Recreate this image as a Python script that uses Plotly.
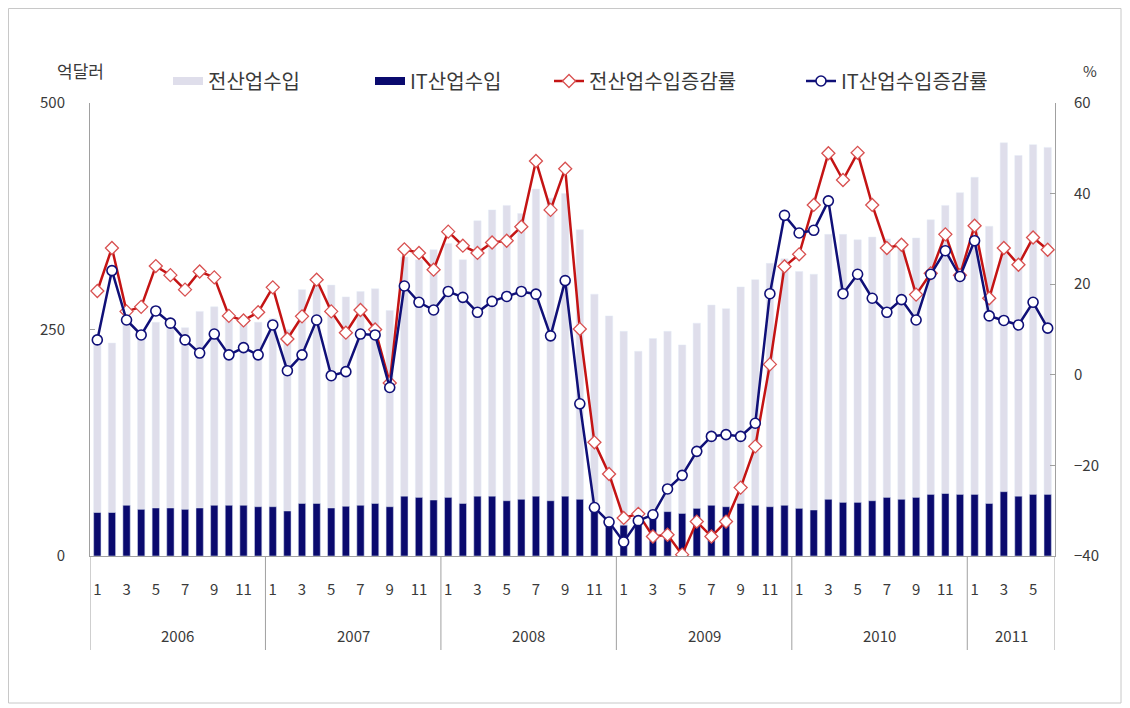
import plotly.graph_objects as go

# ---------------- data ----------------
year_labels = ["2006", "2007", "2008", "2009", "2010", "2011"]
months_per_year = [12, 12, 12, 12, 12, 6]
month_tick_labels = ["1", "3", "5", "7", "9", "11"]

# 전산업수입 (억달러)
total_imports = [
    238, 235, 262, 245, 258, 255, 252, 270, 275, 265, 262, 258,   # 2006
    262, 250, 294, 298, 299, 286, 292, 295, 271, 330, 327, 338,   # 2007
    345, 327, 370, 382, 387, 378, 405, 395, 400, 360, 289, 265,   # 2008
    248, 226, 240, 248, 233, 257, 277, 273, 297, 305, 323, 328,   # 2009
    314, 311, 355, 355, 349, 352, 350, 349, 351, 371, 387, 401,   # 2010
    418, 364, 456, 442, 454, 451,                                 # 2011
]
# IT산업수입 (억달러)
it_imports = [
    48, 48, 56, 51.5, 53, 53, 51.5, 53, 56, 56, 56, 54.4,
    54.4, 49.7, 58, 58, 53, 54.9, 56, 58, 54.4, 66, 64.7, 61.8,
    64.7, 58, 66, 66, 61, 62.6, 66, 61, 66, 62.6, 50, 40,
    34, 40, 43, 49, 47, 52.6, 56, 54.4, 58, 56, 54.4, 56,
    52.6, 50.8, 62.6, 59.2, 59.2, 61, 64.7, 62.6, 64.7, 68, 69, 68,
    68, 58, 71, 66, 68, 68,
]
# 전산업수입증감률 (%)
total_growth = [
    18.5, 28, 14, 15, 24, 22, 18.8, 22.8, 21.5, 13, 12, 13.8,
    19.3, 7.9, 12.9, 21, 14, 9.3, 14.3, 10, -1.8, 27.7, 26.9, 23.2,
    31.6, 28.5, 26.9, 29.2, 29.6, 32.7, 47.2, 36.4, 45.5, 10.1, -14.9, -21.9,
    -31.6, -30.7, -35.7, -35.3, -39.7, -32.4, -35.7, -32.4, -24.9, -15.8, 2.3, 23.9,
    26.6, 37.5, 48.9, 43, 49, 37.5, 28, 28.7, 17.7, 22.4, 31, 22,
    32.9, 16.9, 28, 24.3, 30.3, 27.6,
]
# IT산업수입증감률 (%)
it_growth = [
    7.7, 23, 12.1, 8.8, 14.1, 11.4, 7.7, 4.8, 9, 4.4, 6, 4.4,
    11, 0.9, 4.4, 12.1, -0.2, 0.7, 9, 8.8, -2.8, 19.6, 16, 14.3,
    18.4, 17.1, 13.8, 16.2, 17.3, 18.4, 17.8, 8.6, 20.8, -6.4, -29.3, -32.5,
    -36.9, -32.2, -30.9, -25.2, -22.2, -16.9, -13.6, -13.2, -13.6, -10.7, 17.9, 35.2,
    31.3, 31.9, 38.4, 17.9, 22.2, 16.9, 13.8, 16.6, 12.1, 22.2, 27.4, 21.7,
    29.6, 13, 12, 11, 16, 10.3,
]

series_names = ["전산업수입", "IT산업수입", "전산업수입증감률", "IT산업수입증감률"]

# ---------------- derived positions ----------------
months = []
for n in months_per_year:
    months += list(range(1, n + 1))
x = list(range(len(months)))
tickvals = [i for i, m in enumerate(months) if str(m) in month_tick_labels]
ticktext = [str(months[i]) for i in tickvals]

FONT = "Noto Sans CJK KR, Malgun Gothic, sans-serif"
TXT = "#3a3a3a"
LIGHT = "#dfdeeb"
NAVY = "#0a0a6e"
RED = "#c41414"
BLUE = "#101078"
AXIS = "#a0a0a0"

fig = go.Figure()

fig.add_trace(go.Bar(x=x, y=total_imports, name=series_names[0], marker_color=LIGHT,
                     width=0.5, showlegend=False))
fig.add_trace(go.Bar(x=x, y=it_imports, name=series_names[1], marker_color=NAVY,
                     width=0.5, showlegend=False))
fig.add_trace(go.Scatter(x=x, y=total_growth, name=series_names[2], yaxis="y2",
                         mode="lines+markers",
                         line=dict(color=RED, width=2.5),
                         marker=dict(symbol="diamond", size=10, color="white",
                                     line=dict(color="#d85050", width=1.3)),
                         legend="legend3"))
fig.add_trace(go.Scatter(x=x, y=it_growth, name=series_names[3], yaxis="y2",
                         mode="lines+markers",
                         line=dict(color=BLUE, width=2.5),
                         marker=dict(symbol="circle", size=10, color="white",
                                     line=dict(color=BLUE, width=1.6)),
                         legend="legend4"))
# legend swatches for the bar series
fig.add_trace(go.Scatter(x=[None], y=[None], mode="lines", name=series_names[0],
                         line=dict(color=LIGHT, width=8), legend="legend"))
fig.add_trace(go.Scatter(x=[None], y=[None], mode="lines", name=series_names[1],
                         line=dict(color=NAVY, width=8), legend="legend2"))

# ---------------- layout geometry ----------------
# the page adds an 8px body margin; figure is sized so that it fills the window
OFF = 8
W, H = 1122, 700
L, R, T, B = 90 - OFF, 75, 103 - OFF, 152
pw, ph = W - L - R, H - T - B

def px(xp):  # page x -> paper
    return (xp - OFF - L) / pw

def py(yp):  # page y -> paper
    return (H - B - (yp - OFF)) / ph

shapes = []
# year dividers below the axis
bounds = [-0.5]
c = -0.5
for n in months_per_year:
    c += n
    bounds.append(c)
for b in bounds:
    shapes.append(dict(type="line", xref="x", yref="paper", x0=b, x1=b,
                       y0=0, y1=py(650), line=dict(color=AXIS, width=1)))
# outer frame
shapes.append(dict(type="rect", xref="paper", yref="paper",
                   x0=px(8.5), x1=px(1121), y0=py(703), y1=py(8.5),
                   line=dict(color="#c8c8c8", width=1)))

annotations = []
start = 0
for yl, n in zip(year_labels, months_per_year):
    annotations.append(dict(x=start + (n - 1) / 2, y=py(635), xref="x", yref="paper",
                            text=yl, showarrow=False, yanchor="middle",
                            font=dict(family=FONT, size=15, color=TXT)))
    start += n
annotations.append(dict(x=px(80), y=py(70), xref="paper", yref="paper", text="억달러",
                        showarrow=False, xanchor="center", yanchor="middle",
                        font=dict(family=FONT, size=17, color=TXT)))
annotations.append(dict(x=px(1090), y=py(70), xref="paper", yref="paper", text="%",
                        showarrow=False, xanchor="center", yanchor="middle",
                        font=dict(family=FONT, size=15, color=TXT)))

leg_common = dict(orientation="h", yanchor="middle", xanchor="left",
                  bgcolor="rgba(0,0,0,0)", font=dict(family=FONT, size=20, color=TXT),
                  itemwidth=30, tracegroupgap=0)

fig.update_layout(
    width=W, height=H,
    margin=dict(l=L, r=R, t=T, b=B),
    paper_bgcolor="white", plot_bgcolor="white",
    barmode="overlay",
    font=dict(family=FONT, size=15, color=TXT),
    xaxis=dict(range=[-0.5, len(x) - 0.5], tickmode="array", tickvals=tickvals,
               ticktext=ticktext, showgrid=False, zeroline=False, showline=True,
               linecolor=AXIS, linewidth=1, ticks="", ticklabelstandoff=20,
               tickfont=dict(family=FONT, size=15, color=TXT)),
    yaxis=dict(range=[0, 500], tickvals=[0, 250, 500], showgrid=False, zeroline=False,
               showline=True, linecolor=AXIS, linewidth=1, ticks="inside",
               ticklen=5, tickcolor=AXIS, ticklabelstandoff=21,
               tickfont=dict(family=FONT, size=15, color=TXT)),
    yaxis2=dict(range=[-40, 60], tickvals=[-40, -20, 0, 20, 40, 60], overlaying="y",
                side="right", showgrid=False, zeroline=False, showline=True,
                linecolor=AXIS, linewidth=1, ticks="inside", ticklen=5,
                tickcolor=AXIS, ticklabelstandoff=15,
                tickfont=dict(family=FONT, size=15, color=TXT)),
    legend=dict(x=px(168), y=py(81), **leg_common),
    legend2=dict(x=px(370), y=py(81), **leg_common),
    legend3=dict(x=px(549), y=py(81), **leg_common),
    legend4=dict(x=px(801), y=py(81), **leg_common),
    shapes=shapes,
    annotations=annotations,
)

fig.write_html("out.html")
